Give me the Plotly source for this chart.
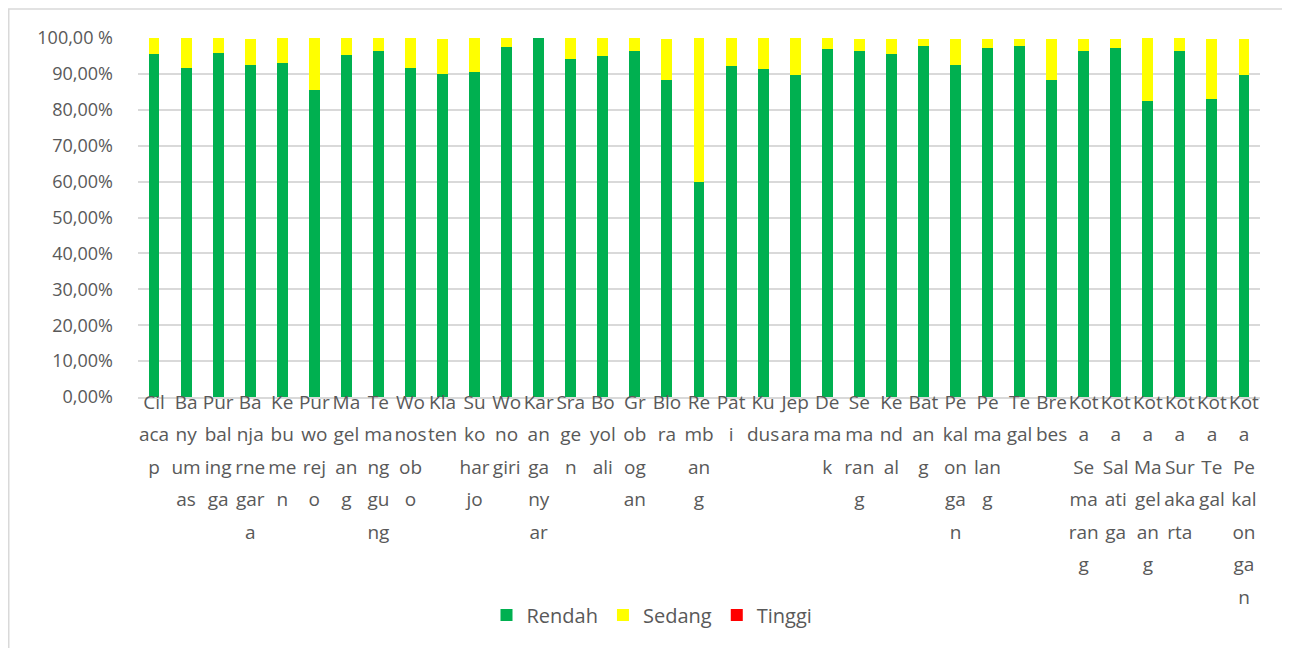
import plotly.graph_objects as go

# Category label pieces (as wrapped in the reference)
label_lines = [
    ["Cil", "aca", "p"],
    ["Ba", "ny", "um", "as"],
    ["Pur", "bal", "ing", "ga"],
    ["Ba", "nja", "rne", "gar", "a"],
    ["Ke", "bu", "me", "n"],
    ["Pur", "wo", "rej", "o"],
    ["Ma", "gel", "an", "g"],
    ["Te", "ma", "ng", "gu", "ng"],
    ["Wo", "nos", "ob", "o"],
    ["Kla", "ten"],
    ["Su", "ko", "har", "jo"],
    ["Wo", "no", "giri"],
    ["Kar", "an", "ga", "ny", "ar"],
    ["Sra", "ge", "n"],
    ["Bo", "yol", "ali"],
    ["Gr", "ob", "og", "an"],
    ["Blo", "ra"],
    ["Re", "mb", "an", "g"],
    ["Pat", "i"],
    ["Ku", "dus"],
    ["Jep", "ara"],
    ["De", "ma", "k"],
    ["Se", "ma", "ran", "g"],
    ["Ke", "nd", "al"],
    ["Bat", "an", "g"],
    ["Pe", "kal", "on", "ga", "n"],
    ["Pe", "ma", "lan", "g"],
    ["Te", "gal"],
    ["Bre", "bes"],
    ["Kot", "a", "Se", "ma", "ran", "g"],
    ["Kot", "a", "Sal", "ati", "ga"],
    ["Kot", "a", "Ma", "gel", "an", "g"],
    ["Kot", "a", "Sur", "aka", "rta"],
    ["Kot", "a", "Te", "gal"],
    ["Kot", "a", "Pe", "kal", "on", "ga", "n"],
]

categories = [
    "Cilacap", "Banyumas", "Purbalingga", "Banjarnegara", "Kebumen", "Purworejo",
    "Magelang", "Temanggung", "Wonosobo", "Klaten", "Sukoharjo", "Wonogiri",
    "Karanganyar", "Sragen", "Boyolali", "Grobogan", "Blora", "Rembang", "Pati",
    "Kudus", "Jepara", "Demak", "Semarang", "Kendal", "Batang", "Pekalongan",
    "Pemalang", "Tegal", "Brebes", "Kota Semarang", "Kota Salatiga",
    "Kota Magelang", "Kota Surakarta", "Kota Tegal", "Kota Pekalongan",
]

rendah = [95.6, 91.7, 95.9, 92.6, 93.1, 85.6, 95.4, 96.5, 91.7, 90.1,
          90.6, 97.6, 100.0, 94.2, 95.1, 96.5, 88.4, 60.0, 92.3, 91.5,
          89.8, 96.8, 96.5, 95.6, 97.9, 92.6, 97.3, 97.9, 88.4, 96.5,
          97.3, 82.5, 96.5, 83.1, 89.8]

sedang = [4.4, 8.3, 4.1, 7.1, 6.9, 14.4, 4.6, 3.5, 8.3, 9.6,
          9.4, 2.4, 0.0, 5.8, 4.9, 3.5, 11.3, 40.0, 7.7, 8.5,
          10.2, 3.2, 3.2, 4.1, 1.8, 7.1, 2.4, 1.8, 11.3, 3.2,
          2.4, 17.5, 3.5, 16.6, 9.9]

tinggi = [0.0] * 35

y_tickvals = [0, 10, 20, 30, 40, 50, 60, 70, 80, 90, 100]
y_ticktext = ["0,00%", "10,00%", "20,00%", "30,00%", "40,00%", "50,00%",
              "60,00%", "70,00%", "80,00%", "90,00%", "100,00 %"]

GRAY = "#595959"
FONT = "Open Sans"

tick_text = ["<br>".join('<span style="font-size:19px">%s</span>' % s for s in parts)
             for parts in label_lines]

W, H = 1282, 640
L, T = 130, 30
R = W - 1252
B = H - 389
PW, PH = 1252 - L, 389 - T

fig = go.Figure()
fig.add_trace(go.Bar(x=categories, y=rendah, name="Rendah", marker_color="#00B050",
                     marker_line_width=0))
fig.add_trace(go.Bar(x=categories, y=sedang, name="Sedang", marker_color="#FFFF00",
                     marker_line_width=0))
fig.add_trace(go.Bar(x=categories, y=tinggi, name="Tinggi", marker_color="#FF0000",
                     marker_line_width=0))

fig.update_layout(
    width=W, height=H,
    barmode="stack", bargap=0.66,
    paper_bgcolor="white", plot_bgcolor="white",
    margin=dict(l=L, r=R, t=T, b=B, autoexpand=False),
    font=dict(family=FONT, color=GRAY, size=17),
    legend=dict(orientation="h", x=(652 - 8 - L) / PW, xanchor="center",
                y=-(615 - 8 - 389) / PH, yanchor="middle",
                font=dict(size=20, color=GRAY, family=FONT),
                traceorder="normal", itemwidth=30),
    showlegend=True,
)

fig.update_xaxes(
    tickmode="array", tickvals=categories, ticktext=tick_text,
    tickangle=0, showgrid=False, showline=True, linecolor="#d9d9d9", linewidth=1.5,
    ticks="", tickfont=dict(size=25, family=FONT, color=GRAY),
    ticklabelstandoff=-20,
)
fig.update_yaxes(
    range=[0, 100], tickmode="array", tickvals=y_tickvals, ticktext=y_ticktext,
    showgrid=True, gridcolor="#d9d9d9", gridwidth=1.5, zeroline=False,
    showline=False, ticks="", ticklabelstandoff=24,
    tickfont=dict(size=18, family=FONT, color=GRAY),
)

fig.add_shape(type="rect", xref="paper", yref="paper",
              x0=(0.75 - L) / PW, x1=(1320 - L) / PW,
              y0=-(700 - 389) / PH, y1=1 + (T - 1) / PH,
              line=dict(color="#d9d9d9", width=1.5), fillcolor="rgba(0,0,0,0)",
              layer="below")

fig.write_html("out.html")
